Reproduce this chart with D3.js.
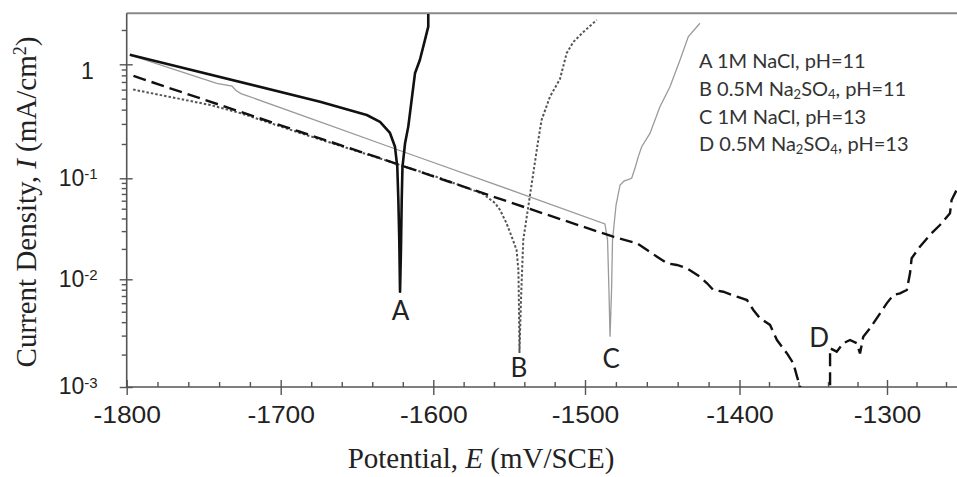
<!DOCTYPE html>
<html>
<head>
<meta charset="utf-8">
<script src="https://cdn.jsdelivr.net/npm/d3@7"></script>
<style>
body { margin: 0; background: #fff; }
svg { display: block; }
</style>
</head>
<body>
<svg id="chart" width="957" height="477"></svg>
<script>
// polarisation curves, [E (mV/SCE), I (mA/cm2)]
var curveA = [[-1798, 1.21], [-1674.2, 0.47], [-1643.6, 0.359], [-1634.9, 0.313], [-1628.4, 0.25],
    [-1625.1, 0.189], [-1623.6, 0.126], [-1622.9, 0.061], [-1622.3, 0.0245], [-1621.8, 0.00767],
    [-1621.2, 0.0195], [-1620.7, 0.061], [-1620.2, 0.126], [-1618.5, 0.203], [-1616.4, 0.284],
    [-1614.2, 0.486], [-1612.0, 0.834], [-1608.8, 1.09], [-1605.5, 1.63], [-1603.3, 2.14], [-1603.3, 2.76]]

var curveB = [[-1795.8, 0.60], [-1771.8, 0.517], [-1745.8, 0.44], [-1726.4, 0.374], [-1687.4, 0.25],
    [-1634.9, 0.149], [-1595.6, 0.1006], [-1567.2, 0.070], [-1559.3, 0.0569], [-1556.0, 0.0485],
    [-1551.7, 0.0358], [-1547.5, 0.0245], [-1545.1, 0.0195], [-1543.9, 0.01236], [-1543.6, 0.00643],
    [-1543.2, 0.00207], [-1542.2, 0.00643], [-1541.2, 0.0155], [-1540.7, 0.0245], [-1537.4, 0.0523],
    [-1534.1, 0.1106], [-1530.8, 0.217], [-1528.6, 0.325], [-1523.1, 0.52], [-1516.5, 0.743],
    [-1512.1, 1.25], [-1507.7, 1.57], [-1501.1, 1.92], [-1492.4, 2.45]]

var curveC = [[-1796.6, 1.19], [-1741.5, 0.681], [-1731.6, 0.645], [-1729.0, 0.589], [-1725.8, 0.554],
    [-1674.2, 0.313], [-1619.7, 0.171], [-1542.8, 0.071], [-1487.1, 0.0353], [-1485.4, 0.0245],
    [-1484.5, 0.00796], [-1483.8, 0.00293], [-1482.8, 0.00796], [-1482.2, 0.0245], [-1481.2, 0.0345],
    [-1479.9, 0.0544], [-1477.3, 0.0859], [-1474.8, 0.094], [-1469.8, 0.1], [-1467.6, 0.123],
    [-1465.5, 0.155], [-1463.3, 0.189], [-1457.9, 0.249], [-1451.5, 0.425], [-1445.0, 0.636],
    [-1438.5, 1.09], [-1433.1, 1.75], [-1425.6, 2.29]]

var curveD = [[-1795.6, 0.79], [-1752.3, 0.503], [-1687.4, 0.256], [-1634.9, 0.15], [-1589.0, 0.0919],
    [-1536.3, 0.0497], [-1481.7, 0.0264], [-1466.3, 0.0227], [-1453.4, 0.01675], [-1446.9, 0.0144],
    [-1440.5, 0.01387], [-1434.0, 0.01285], [-1425.6, 0.0106], [-1421.0, 0.00918], [-1417.0, 0.00796],
    [-1410.5, 0.00767], [-1401.6, 0.00689], [-1394.9, 0.00642], [-1390.6, 0.00519], [-1386.1, 0.00434],
    [-1379.3, 0.00377], [-1374.6, 0.00273], [-1367.8, 0.00205], [-1363.5, 0.00166], [-1361.0, 0.00125],
    [-1359.0, 0.00101], [-1348.8, 0.0005], [-1338.6, 0.00076], [-1338.6, 0.00172], [-1338.6, 0.00229],
    [-1334.1, 0.00213], [-1329.6, 0.00255], [-1325.1, 0.00273], [-1320.5, 0.00255], [-1318.3, 0.00205],
    [-1316.1, 0.00293], [-1311.5, 0.00351], [-1304.7, 0.00483], [-1300.2, 0.00598], [-1295.7, 0.00715],
    [-1291.2, 0.0074], [-1286.6, 0.00796], [-1284.4, 0.01146], [-1283.3, 0.01615], [-1277.7, 0.021],
    [-1270.9, 0.0275], [-1264.1, 0.0345], [-1257.3, 0.045], [-1256.2, 0.061], [-1252.8, 0.0766]]

var xTicks = [-1800, -1700, -1600, -1500, -1400, -1300]
var xMinorTicks = d3.range(-1780, -1250, 20).filter(v => v % 100 !== 0)
var yTicks = [1e-3, 1e-2, 1e-1, 1]
var yTickLabels = [['10', '-3'], ['10', '-2'], ['10', '-1'], ['1', '']]
var yMinorTicks = []
;[-3, -2, -1, 0].forEach(p => d3.range(2, 10).forEach(k => { if (k * Math.pow(10, p) < 2.8) yMinorTicks.push(k * Math.pow(10, p)) }))

var legendRows = [
    [['A 1M NaCl, pH=11', 0]],
    [['B 0.5M Na', 0], ['2', 1], ['SO', 0], ['4', 1], [', pH=11', 0]],
    [['C 1M NaCl, pH=13', 0]],
    [['D 0.5M Na', 0], ['2', 1], ['SO', 0], ['4', 1], [', pH=13', 0]]
]

// letter, E, I at the letter's baseline
var curveLabels = [['A', -1621.5, 0.0042], ['B', -1543.5, 0.00124], ['C', -1483, 0.0015], ['D', -1346, 0.00235]]

var plot = {left: 126.7, right: 957, top: 13.3, bottom: 387}

// the scanned axes are a bit uneven, so scales are piecewise
var x = d3.scaleLinear()
    .domain(xTicks)
    .range([126.7, 280.7, 433.3, 585, 739.5, 887])

var y = d3.scaleLog()
    .domain([1e-3, 1e-2, 1e-1, 1, 10])
    .range([387, 279.3, 178.3, 64.3, -49.7])

var svg = d3.select('#chart')

svg.append('defs').append('clipPath')
    .attr('id', 'plotclip')
    .append('rect')
    .attr('x', plot.left)
    .attr('y', plot.top)
    .attr('width', plot.right - plot.left)
    .attr('height', plot.bottom - plot.top)

// frame
svg.append('line')
    .attr('x1', plot.left).attr('x2', plot.right)
    .attr('y1', plot.top).attr('y2', plot.top)
    .attr('stroke', '#8a8a8a').attr('stroke-width', 2)

// x axis
var xMinorAxis = svg.append('g')
    .attr('transform', `translate(0, ${plot.bottom})`)
    .call(d3.axisBottom(x).tickValues(xMinorTicks).tickSize(-5).tickFormat(''))
var xAxis = svg.append('g')
    .attr('transform', `translate(0, ${plot.bottom})`)
    .call(d3.axisBottom(x).tickValues(xTicks).tickSize(8).tickFormat(d => String(d)))
xAxis.selectAll('.tick line').attr('y1', -7)
xAxis.selectAll('.tick text')
    .attr('font-family', 'Liberation Sans, Arial, sans-serif')
    .attr('font-size', 23)
    .attr('fill', '#222')
    .attr('transform', 'scale(1.15,1)')
    .attr('dy', '0.71em')
    .attr('y', 20)

// y axis
var yMinorAxis = svg.append('g')
    .attr('transform', `translate(${plot.left}, 0)`)
    .call(d3.axisLeft(y).tickValues(yMinorTicks).tickSize(5).tickFormat(''))
var yAxis = svg.append('g')
    .attr('transform', `translate(${plot.left}, 0)`)
    .call(d3.axisLeft(y).tickValues(yTicks).tickSize(7).tickFormat(''))
yAxis.selectAll('.tick line').attr('x1', 6)
yAxis.selectAll('.tick').each(function (d, i) {
    var t = d3.select(this).append('text')
        .attr('x', i === 3 ? -33 : -29)
        .attr('dy', i === 3 ? '0.62em' : '0.3em')
        .attr('text-anchor', 'end')
        .attr('font-family', 'Liberation Sans, Arial, sans-serif')
        .attr('font-size', 23)
        .attr('fill', '#222')
    t.append('tspan').text(yTickLabels[i][0])
    if (yTickLabels[i][1]) {
        t.append('tspan').attr('font-size', 15).attr('dy', '-0.45em').text(yTickLabels[i][1])
    }
})

;[xMinorAxis, xAxis, yMinorAxis, yAxis].forEach(g => {
    g.select('.domain').remove()
    g.selectAll('.tick line').attr('stroke', '#555').attr('stroke-width', 1.4)
})

svg.append('line')
    .attr('x1', plot.left).attr('x2', plot.right)
    .attr('y1', plot.bottom).attr('y2', plot.bottom)
    .attr('stroke', '#555').attr('stroke-width', 1.6)
svg.append('line')
    .attr('x1', plot.left).attr('x2', plot.left)
    .attr('y1', plot.top).attr('y2', plot.bottom)
    .attr('stroke', '#555').attr('stroke-width', 1.6)

// curves
var line = d3.line()
    .x(d => x(d[0]))
    .y(d => y(d[1]))

var curves = svg.append('g').attr('clip-path', 'url(#plotclip)')

curves.append('path')
    .datum(curveC)
    .attr('fill', 'none')
    .attr('stroke', '#9a9a9a')
    .attr('stroke-width', 1.3)
    .attr('d', line)

curves.append('path')
    .datum(curveB)
    .attr('fill', 'none')
    .attr('stroke', '#555')
    .attr('stroke-width', 2)
    .attr('stroke-dasharray', '2.5,2')
    .attr('d', line)

curves.append('path')
    .datum(curveD)
    .attr('fill', 'none')
    .attr('stroke', '#111')
    .attr('stroke-width', 2.4)
    .attr('stroke-dasharray', '13,6')
    .attr('d', line)

curves.append('path')
    .datum(curveA)
    .attr('fill', 'none')
    .attr('stroke', '#111')
    .attr('stroke-width', 2.6)
    .attr('stroke-linejoin', 'round')
    .attr('d', line)

// curve letters
svg.append('g')
    .selectAll('text')
    .data(curveLabels)
    .join('text')
        .attr('x', d => x(d[1]))
        .attr('y', d => y(d[2]))
        .attr('text-anchor', 'middle')
        .attr('font-family', 'Lato, sans-serif')
        .attr('font-size', 26)
        .attr('fill', '#222')
        .text(d => d[0])

// legend
var legend = svg.append('g')
    .attr('font-family', 'Lato, sans-serif')
    .attr('font-size', 20)
    .attr('fill', '#333')
legendRows.forEach((row, i) => {
    var t = legend.append('text')
        .attr('x', 699)
        .attr('y', 68 + i * 27.8)
    row.forEach(part => {
        var s = t.append('tspan').text(part[0])
        if (part[1]) s.attr('font-size', 13).attr('baseline-shift', '-25%')
    })
})

// axis titles
var xTitle = svg.append('text')
    .attr('x', 481)
    .attr('y', 468)
    .attr('text-anchor', 'middle')
    .attr('font-family', 'Liberation Serif, Times New Roman, serif')
    .attr('font-size', 29)
    .attr('fill', '#222')
xTitle.append('tspan').text('Potential, ')
xTitle.append('tspan').attr('font-style', 'italic').text('E')
xTitle.append('tspan').text(' (mV/SCE)')

var yTitle = svg.append('text')
    .attr('transform', 'translate(36, 202) rotate(-90)')
    .attr('text-anchor', 'middle')
    .attr('font-family', 'Liberation Serif, Times New Roman, serif')
    .attr('font-size', 29)
    .attr('fill', '#222')
yTitle.append('tspan').text('Current Density, ')
yTitle.append('tspan').attr('font-style', 'italic').text('I')
yTitle.append('tspan').text(' (mA/cm')
yTitle.append('tspan').attr('font-size', 18).attr('baseline-shift', 'super').text('2')
yTitle.append('tspan').text(')')
</script>
</body>
</html>
